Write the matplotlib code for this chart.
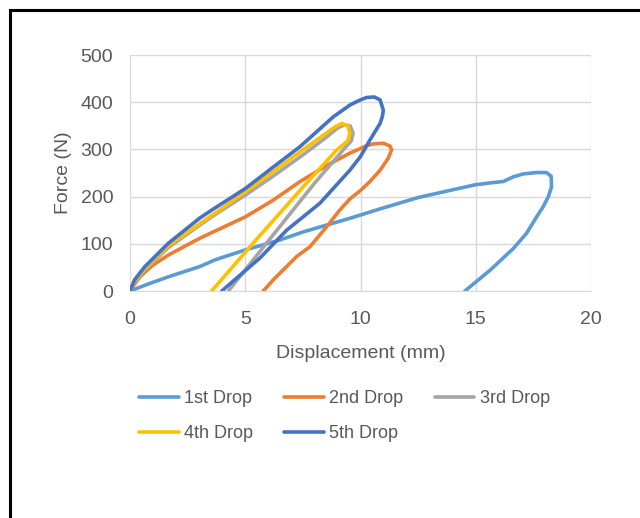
import matplotlib
matplotlib.use("Agg")
import matplotlib.pyplot as plt
from matplotlib.lines import Line2D

plt.rcParams['font.family'] = ['Liberation Sans', 'DejaVu Sans']

series_names = ["1st Drop", "2nd Drop", "3rd Drop", "4th Drop", "5th Drop"]
colors = ["#5B9BD5", "#ED7D31", "#A5A5A5", "#FFC000", "#4472C4"]

drop1_x = [0, 0.8, 1.66, 3.04, 3.69, 5.0, 6.5, 7.5, 9.54, 10.85, 12.5, 14.97, 15.8, 16.2, 16.63, 17.06,
           17.64, 18.07, 18.27, 18.29, 18.15, 17.93, 17.64, 17.2, 16.63, 15.62, 14.53]
drop1_y = [0, 15, 30, 52, 66, 87, 108, 125, 154, 174, 198, 225, 230, 232, 242, 248,
           251, 251, 243, 221, 200, 179, 157, 122, 90, 44, 0]

drop2_x = [0, 0.2, 0.43, 0.65, 1.0, 1.66, 2.46, 3.04, 3.69, 5.0, 6.2, 7.38, 8.68, 9.54, 10.0, 10.27, 10.6,
           11.0, 11.28, 11.35, 11.2, 10.85, 10.41, 10.0, 9.54, 9.11, 8.53, 7.81, 7.23, 6.8, 6.3, 5.78]
drop2_y = [0, 15, 30, 40, 55, 76, 97, 112, 127, 157, 192, 232, 270, 292, 302, 308, 312,
           313, 307, 299, 281, 256, 232, 213, 195, 172, 136, 94, 73, 52, 28, 0]

drop3_x = [0, 0.2, 0.65, 1.66, 3.04, 3.69, 5.0, 6.2, 7.38, 8.5, 9.0, 9.3, 9.55, 9.68, 9.6, 9.25, 8.0, 6.0, 4.27]
drop3_y = [0, 20, 45, 92, 140, 162, 203, 243, 284, 325, 345, 352, 350, 334, 318, 299, 228, 106, 0]

drop4_x = [0, 0.2, 0.65, 1.66, 3.04, 3.69, 5.0, 6.2, 7.38, 8.5, 8.9, 9.2, 9.45, 9.54, 9.45, 8.97, 7.5, 5.5, 3.54]
drop4_y = [0, 22, 48, 96, 143, 165, 210, 252, 295, 334, 348, 355, 350, 334, 318, 299, 220, 110, 0]

drop5_x = [0, 0.2, 0.65, 1.66, 3.04, 3.69, 5.0, 6.2, 7.38, 8.82, 9.54, 10.0, 10.27, 10.6, 10.85, 10.99,
           10.95, 10.85, 10.41, 10.0, 9.54, 8.24, 6.8, 5.64, 3.98]
drop5_y = [0, 24, 52, 101, 155, 176, 217, 262, 306, 369, 394, 405, 410, 411, 405, 383,
           370, 355, 320, 285, 256, 186, 129, 70, 0]

xs = [drop1_x, drop2_x, drop3_x, drop4_x, drop5_x]
ys = [drop1_y, drop2_y, drop3_y, drop4_y, drop5_y]

x_ticks = [0, 5, 10, 15, 20]
y_ticks = [0, 100, 200, 300, 400, 500]

fig = plt.figure(figsize=(6.4, 5.18), dpi=100)
ax = fig.add_axes([130/640, 1-291/518, (591-130)/640, (291-55)/518])

handles = []
for x, y, c, n in zip(xs, ys, colors, series_names):
    h, = ax.plot(x, y, color=c, lw=2.6, solid_joinstyle='round', solid_capstyle='round', label=n)
    handles.append(h)

ax.set_xlim(0, 20)
ax.set_ylim(0, 500)
ax.set_xticks(x_ticks)
ax.set_yticks(y_ticks)
ax.grid(True, color="#D9D9D9", lw=1)
ax.set_axisbelow(True)
for s in ax.spines.values():
    s.set_visible(False)
ax.spines['bottom'].set_visible(True)
ax.spines['bottom'].set_color("#D9D9D9")
ax.tick_params(length=0, labelsize=14, labelcolor="#595959")
ax.tick_params(axis='x', pad=14.5)
ax.tick_params(axis='y', pad=12)
ax.set_xlabel("Displacement (mm)", fontsize=14, color="#595959", labelpad=12)
ax.set_ylabel("Force (N)", fontsize=14, color="#595959", labelpad=6)

order = [0, 3, 1, 4, 2]
fig.legend([handles[i] for i in order], [series_names[i] for i in order],
           ncol=3, loc='upper left', bbox_to_anchor=(139/640, 1-390/518),
           frameon=False, fontsize=13, labelcolor="#595959",
           handlelength=2.2, handletextpad=0.3, columnspacing=1.72,
           borderpad=0, borderaxespad=0, labelspacing=1.0)

fig.add_artist(Line2D([9.5/640, 9.5/640], [0, 1-9.5/518], color='black', lw=2.2, transform=fig.transFigure))
fig.add_artist(Line2D([9.5/640, 1], [1-9.5/518, 1-9.5/518], color='black', lw=2.2, transform=fig.transFigure))

fig.savefig("out.png", dpi=100)
